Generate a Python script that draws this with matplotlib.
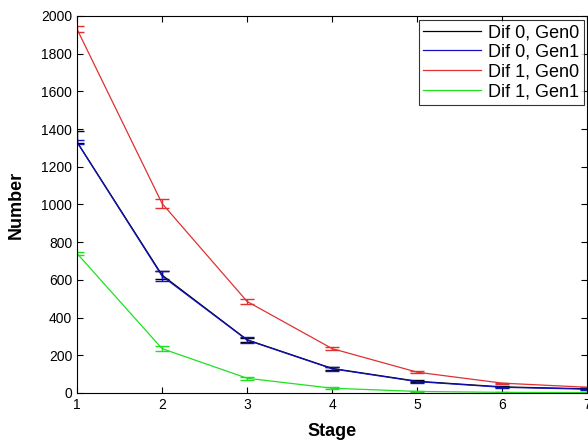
import matplotlib
matplotlib.use("Agg")
from matplotlib import pyplot as plt
from matplotlib.lines import Line2D

plt.rcParams['font.family'] = ['Liberation Sans', 'DejaVu Sans']

stage = [1, 2, 3, 4, 5, 6, 7]

# mean counts per stage and their errors (lower, upper)
dif0_gen0 = [1332, 625, 282, 130, 62, 32, 22]
dif0_gen0_lo = [8, 20, 12, 8, 5, 3, 2]
dif0_gen0_hi = [60, 20, 12, 8, 5, 3, 2]
dif0_gen1 = [1330, 620, 280, 128, 60, 30, 20]
dif0_gen1_err = [10, 25, 15, 10, 6, 4, 3]
dif1_gen0 = [1930, 1005, 485, 235, 110, 52, 30]
dif1_gen0_err = [15, 25, 12, 8, 5, 3, 2]
dif1_gen1 = [740, 235, 78, 25, 8, 3, 2]
dif1_gen1_err = [10, 15, 8, 5, 2, 1, 1]

series = [
    ("Dif 0, Gen0", dif0_gen0, [dif0_gen0_lo, dif0_gen0_hi], "black"),
    ("Dif 0, Gen1", dif0_gen1, dif0_gen1_err, "#1010c0"),
    ("Dif 1, Gen0", dif1_gen0, dif1_gen0_err, "#e03030"),
    ("Dif 1, Gen1", dif1_gen1, dif1_gen1_err, "#20e020"),
]

fig = plt.figure(figsize=(5.88, 4.43), dpi=100)
ax = fig.add_axes([0.131, 0.113, 0.868, 0.851])

handles = []
for nome, y, e, cor in series:
    ax.errorbar(stage, y, yerr=e, color=cor, lw=0.9, elinewidth=1.0,
                capsize=5, capthick=1.0)
    handles.append(Line2D([], [], color=cor, lw=0.9, label=nome))

ax.set_xlim(1, 7)
ax.set_ylim(0, 2000)
ax.set_xticks(stage)
ax.set_yticks(range(0, 2001, 200))
ax.tick_params(direction='in', top=True, right=True, labelsize=10, length=4)
ax.set_xlabel("Stage", fontsize=13, fontweight='bold', labelpad=8)
ax.set_ylabel("Number", fontsize=13, fontweight='bold', labelpad=12)

leg = ax.legend(handles=handles, loc='upper right', fontsize=13, frameon=True,
                fancybox=False, borderpad=0.25, labelspacing=0.15,
                handlelength=3.2, handletextpad=0.4, borderaxespad=0.2)
leg.get_frame().set_edgecolor('black')
leg.get_frame().set_linewidth(0.8)

fig.savefig("out.png", dpi=100)
